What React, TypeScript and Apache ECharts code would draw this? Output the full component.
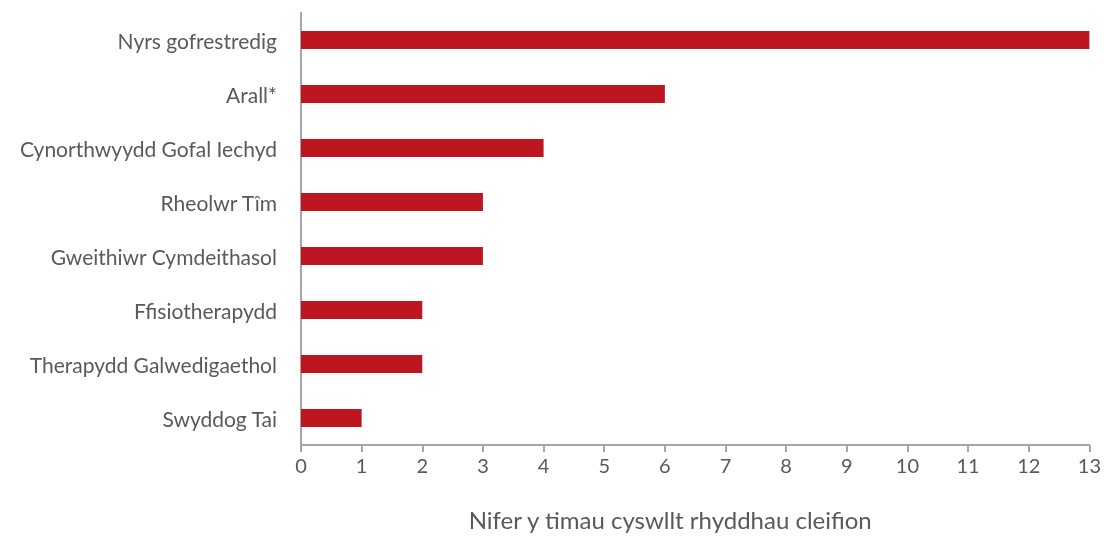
import React, { useEffect, useRef } from "react";
import * as echarts from "echarts";

const categories = [
  "Nyrs gofrestredig",
  "Arall*",
  "Cynorthwyydd Gofal Iechyd",
  "Rheolwr Tîm",
  "Gweithiwr Cymdeithasol",
  "Ffisiotherapydd",
  "Therapydd Galwedigaethol",
  "Swyddog Tai",
];
const values = [13, 6, 4, 3, 3, 2, 2, 1];
const xAxisTitle = "Nifer y timau cyswllt rhyddhau cleifion";

export default function App() {
  const ref = useRef<HTMLDivElement>(null);
  useEffect(() => {
    if (!ref.current) return;
    const chart = echarts.init(ref.current, undefined, { renderer: "svg" });
    const font = "Lato, 'Open Sans', sans-serif";
    chart.setOption({
      animation: false,
      grid: { left: 301, right: 12, top: 13, bottom: 81, containLabel: false },
      xAxis: {
        type: "value",
        min: 0,
        max: 13,
        interval: 1,
        splitLine: { show: false },
        axisLine: { show: true, lineStyle: { color: "#a6a6a6", width: 2 } },
        axisTick: { show: true, length: 7, lineStyle: { color: "#a6a6a6", width: 2 } },
        axisLabel: { color: "#595959", fontSize: 20, fontFamily: font, margin: 10 },
        name: xAxisTitle,
        nameLocation: "middle",
        nameGap: 62,
        nameTextStyle: {
          color: "#595959",
          fontSize: 24,
          fontFamily: font,
          padding: [0, 50, 0, 0],
        },
      },
      yAxis: {
        type: "category",
        data: categories,
        inverse: true,
        axisLine: { show: true, lineStyle: { color: "#a6a6a6", width: 2 } },
        axisTick: { show: false },
        axisLabel: { color: "#595959", fontSize: 21, fontFamily: font, margin: 24 },
      },
      series: [
        {
          type: "bar",
          data: values,
          barWidth: 18,
          itemStyle: { color: "#BE1620" },
        },
      ],
    });
    return () => chart.dispose();
  }, []);
  return (
    <div
      ref={ref}
      style={{ position: "fixed", left: 0, top: 0, width: 1104, height: 536 }}
    />
  );
}
